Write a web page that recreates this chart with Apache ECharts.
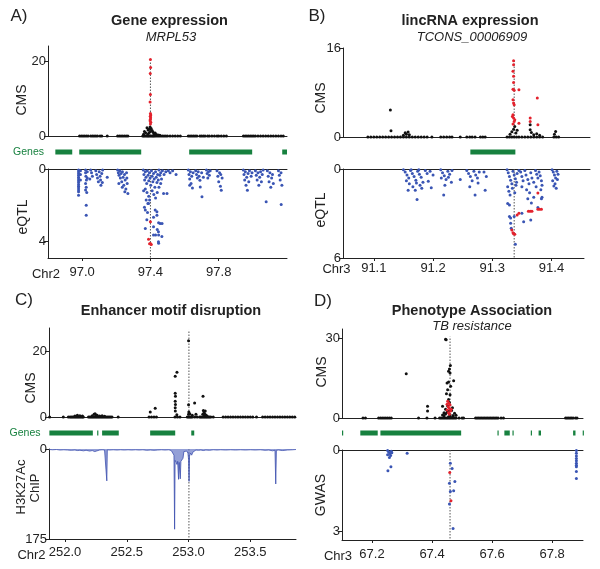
<!DOCTYPE html>
<html><head><meta charset="utf-8">
<script src="https://cdn.jsdelivr.net/npm/echarts@6/dist/echarts.min.js"></script>
<style>html,body{margin:0;padding:0;background:#fff}#c{width:600px;height:569px}</style>
</head><body><div id="c"></div>
<script>
// ---------------- DATA ----------------
// Panel A: Gene expression, MRPL53 (Chr2, Mb)
const aXTicks = [97.0, 97.4, 97.8];
const aCmsTicks = [0, 20];
const aEqtlTicks = [0, 4];
const aLead = 97.4, aLeadTop = 20.5;
const aGenes = [[96.843,96.942],[96.983,97.346],[97.627,97.996],[98.172,98.2]];
const aCmsBaseX = [96.985,96.995,97.005,97.015,97.025,97.035,97.05,97.06,97.07,97.08,97.09,97.105,97.115,97.147,97.208,97.218,97.228,97.238,97.248,97.258,97.268,97.355,97.362,97.37,97.378,97.385,97.392,97.4,97.408,97.415,97.422,97.43,97.44,97.45,97.46,97.47,97.48,97.49,97.5,97.515,97.53,97.545,97.56,97.575,97.622,97.632,97.642,97.652,97.662,97.672,97.69,97.7,97.71,97.72,97.735,97.745,97.76,97.775,97.79,97.8,97.815,97.83,97.845,97.945,97.955,97.965,97.975,97.985,97.995,98.005,98.015,98.03,98.045,98.06,98.075,98.09,98.105,98.12,98.135,98.15,98.165,98.178];
const aCmsBlack = [[97.36,0.5],[97.365,1.2],[97.372,0.9],[97.38,2.2],[97.386,1.6],[97.392,1.8],[97.398,2.4],[97.404,2.0],[97.41,1.5],[97.416,1.0],[97.42,0.6],[97.428,0.8],[97.435,0.4],[97.445,0.3],[97.455,0.2],[97.392,0.9],[97.40,1.2],[97.385,0.5]];
const aCmsRed = [[97.4,20.4],[97.401,18.3],[97.399,16.7],[97.4,11.1],[97.398,9.1],[97.4,6.0],[97.402,5.6],[97.399,5.3],[97.401,4.9],[97.4,4.5],[97.398,4.1],[97.402,3.7],[97.4,3.2]];
const aEqtlBlue = [
[96.979,0.05],[96.979,0.15],[96.979,0.25],[96.979,0.35],[96.979,0.45],[96.979,0.55],[96.979,0.65],[96.979,0.75],[96.979,0.85],[96.979,0.95],[96.979,1.05],[96.979,1.15],[96.979,1.25],[96.979,1.45],
[96.99,0.1],[96.99,0.3],[96.99,0.6],
[97.02,0.05],[97.02,0.2],[97.022,0.4],[97.025,0.6],[97.02,0.8],[97.024,1.0],[97.027,1.3],[97.03,0.15],[97.03,0.5],[97.024,2.0],[97.024,2.55],[97.02,1.15],
[97.05,0.05],[97.055,0.2],[97.06,0.4],[97.045,0.55],[97.08,0.1],[97.085,0.3],[97.09,0.5],[97.095,0.7],[97.1,0.15],[97.105,0.4],[97.108,0.6],[97.11,0.9],[97.115,0.25],[97.118,0.75],[97.12,0.05],[97.147,0.45],
[97.208,0.05],[97.212,0.2],[97.216,0.35],[97.22,0.1],[97.224,0.5],[97.228,0.25],[97.232,0.7],[97.236,0.15],[97.24,0.45],[97.244,0.9],[97.248,0.3],[97.252,0.6],[97.256,1.1],[97.26,0.2],[97.264,0.8],[97.268,1.35],[97.25,1.25],[97.235,1.0],[97.262,0.5],[97.215,0.8],
[97.358,0.05],[97.362,0.3],[97.366,0.6],[97.37,0.15],[97.374,0.45],[97.378,0.8],[97.382,0.1],[97.386,0.35],[97.39,0.65],[97.394,0.2],[97.398,0.5],[97.402,0.9],[97.406,0.1],[97.41,0.4],[97.414,0.7],[97.418,0.25],[97.422,0.55],[97.426,1.0],[97.43,0.15],[97.434,0.45],[97.438,0.75],[97.442,0.3],[97.446,0.6],[97.45,0.05],[97.455,0.35],[97.46,0.2],[97.465,0.55],[97.47,0.1],[97.48,0.3],[97.49,0.15],
[97.37,1.1],[97.38,1.3],[97.39,1.5],[97.36,1.2],[97.375,1.7],[97.385,1.9],[97.395,1.7],[97.41,1.2],[97.42,1.4],[97.43,1.6],[97.44,1.3],[97.45,1.0],[97.46,0.8],[97.477,1.35],[97.497,1.35],
[97.365,2.1],[97.37,2.26],[97.383,2.4],[97.389,1.9],[97.418,2.65],[97.428,2.26],[97.438,2.54],[97.438,2.36],[97.448,2.96],[97.457,3.0],[97.468,3.0],[97.379,2.8],[97.37,3.27],[97.418,3.18],[97.44,3.33],[97.447,3.45],[97.418,3.63],[97.43,3.63],[97.448,3.63],[97.467,3.72],[97.447,4.0],[97.448,4.09],
[97.505,0.1],[97.515,0.2],[97.53,0.1],[97.55,0.3],
[97.622,0.05],[97.626,0.3],[97.63,0.55],[97.634,0.15],[97.638,0.8],[97.642,0.4],[97.646,1.05],[97.65,0.2],[97.63,0.9],[97.665,0.1],[97.67,0.3],[97.675,0.5],[97.68,0.15],[97.685,0.4],[97.69,0.62],[97.692,0.99],[97.702,1.53],[97.7,0.2],[97.71,0.45],
[97.728,0.05],[97.732,0.25],[97.736,0.5],[97.74,0.15],[97.745,0.35],[97.75,0.1],
[97.79,0.1],[97.795,0.4],[97.8,0.7],[97.805,0.2],[97.81,0.95],[97.815,1.17],[97.82,0.5],[97.812,0.3],
[97.944,0.05],[97.948,0.3],[97.952,0.6],[97.956,0.15],[97.96,0.9],[97.964,0.45],[97.968,1.17],[97.972,0.25],[97.976,0.7],[97.98,0.1],[97.99,0.4],[97.995,0.2],
[98.015,0.1],[98.02,0.35],[98.025,0.6],[98.03,0.2],[98.035,0.9],[98.04,0.45],[98.045,0.15],[98.05,0.7],[98.055,0.3],[98.06,0.05],
[98.085,0.1],[98.09,0.4],[98.095,0.7],[98.1,0.2],[98.105,1.0],[98.11,0.5],[98.115,0.3],[98.12,0.8],[98.078,1.8],
[98.15,0.1],[98.155,0.35],[98.16,0.6],[98.165,0.2],[98.17,0.9],[98.166,1.95]];
const aEqtlRed = [[97.4,2.9],[97.389,3.87],[97.395,4.12],[97.405,4.15],[97.4,4.1]];

// Panel B: lincRNA expression, TCONS_00006909 (Chr3, Mb)
const bXTicks = [91.1, 91.2, 91.3, 91.4];
const bCmsTicks = [0, 16];
const bEqtlTicks = [0, 6];
const bLead = 91.337, bLeadTop = 13.7;
const bGenes = [[91.263,91.339]];
const bCmsBaseX = [91.09,91.095,91.1,91.105,91.11,91.115,91.12,91.125,91.13,91.135,91.14,91.145,91.15,91.155,91.16,91.165,91.17,91.175,91.18,91.185,91.19,91.198,91.213,91.218,91.223,91.228,91.232,91.246,91.257,91.262,91.266,91.271,91.28,91.284,91.288,91.325,91.329,91.333,91.337,91.341,91.345,91.35,91.355,91.36,91.365,91.37,91.375,91.38,91.385,91.404,91.408,91.412];
const bCmsBlack = [[91.128,4.87],[91.129,1.14],[91.15,0.3],[91.153,0.78],[91.155,0.5],[91.158,0.9],[91.16,0.4],[91.33,0.5],[91.333,0.96],[91.336,1.4],[91.338,1.9],[91.34,0.7],[91.342,1.2],[91.364,2.2],[91.364,1.3],[91.366,0.8],[91.37,0.4],[91.375,0.6],[91.38,0.3],[91.407,1.0],[91.405,0.5]];
const bCmsRed = [[91.336,13.7],[91.336,13.0],[91.335,11.8],[91.336,10.9],[91.336,9.8],[91.335,8.6],[91.337,8.4],[91.335,6.7],[91.336,6.1],[91.337,5.8],[91.335,4.0],[91.334,3.7],[91.336,3.4],[91.338,3.1],[91.337,2.8],[91.335,2.35],[91.345,8.5],[91.345,2.47],[91.364,3.4],[91.364,2.8],[91.376,7.0],[91.377,2.2]];
const bEqtlBlue = [
[91.15,0.05],[91.153,0.2],[91.156,0.4],[91.159,0.6],[91.162,0.1],[91.165,0.3],[91.168,0.5],[91.171,0.75],[91.174,0.15],[91.177,0.35],[91.18,0.55],[91.183,0.9],[91.155,0.8],[91.16,1.0],[91.166,1.2],[91.172,0.95],[91.178,1.1],[91.181,1.3],[91.158,1.43],[91.17,1.43],[91.173,2.05],[91.163,0.05],[91.176,0.05],
[91.187,0.1],[91.19,0.3],[91.195,0.15],[91.197,1.27],[91.2,0.4],[91.192,0.83],
[91.213,0.05],[91.216,0.25],[91.219,0.45],[91.222,0.7],[91.225,0.15],[91.228,0.35],[91.231,0.9],[91.214,0.6],[91.22,1.09],[91.218,1.76],[91.226,0.55],[91.232,0.1],
[91.246,0.71],
[91.257,0.1],[91.26,0.3],[91.263,0.5],[91.266,0.8],[91.269,0.15],[91.272,0.4],[91.275,0.6],[91.278,0.2],[91.262,1.2],[91.271,1.76],[91.276,0.95],[91.288,1.43],[91.286,0.2],[91.29,0.5],
[91.325,0.05],[91.327,0.25],[91.329,0.5],[91.331,0.75],[91.333,1.0],[91.335,0.15],[91.337,0.4],[91.339,0.65],[91.341,0.9],[91.326,1.2],[91.328,1.5],[91.33,1.76],[91.334,1.3],[91.338,1.6],[91.342,0.3],[91.326,2.32],[91.329,2.43],[91.329,3.21],[91.331,3.3],[91.331,3.66],[91.332,3.99],[91.337,3.21],[91.339,5.07],[91.34,1.1],[91.345,0.1],
[91.348,0.2],[91.35,0.5],[91.352,0.8],[91.355,0.1],[91.357,0.4],[91.36,0.7],[91.362,1.0],[91.365,0.25],[91.367,0.6],[91.37,0.9],[91.35,1.2],[91.358,1.4],[91.363,1.6],[91.366,2.3],[91.37,1.9],[91.35,2.99],[91.353,3.55],[91.365,3.44],[91.36,2.0],
[91.373,0.1],[91.375,0.35],[91.377,0.6],[91.379,0.2],[91.381,0.45],[91.383,0.8],[91.384,1.1],[91.382,1.4],[91.384,1.9],[91.383,2.0],[91.377,2.6],[91.374,1.2],
[91.401,0.05],[91.403,0.2],[91.405,0.4],[91.407,0.6],[91.409,0.15],[91.411,0.35],[91.402,0.8],[91.406,1.0],[91.41,0.7],[91.408,1.3],[91.404,1.15]];
const bEqtlRed = [[91.333,4.11],[91.336,4.37],[91.338,4.4],[91.335,4.3],[91.342,3.1],[91.345,2.99],[91.361,2.85],[91.364,2.85],[91.367,2.85],[91.377,1.62],[91.377,2.72],[91.38,2.72],[91.383,2.72]];

// Panel C: Enhancer motif disruption (Chr2, Mb)
const cXTicks = [252.0, 252.5, 253.0, 253.5];
const cCmsTicks = [0, 20];
const cChipTicks = [0, 175];
const cLead = 253.003, cLeadTop = 26.5;
const cGenes = [[251.873,252.225],[252.26,252.265],[252.3,252.435],[252.689,252.892],[253.022,253.046]];
const cCmsBaseX = [251.875,251.986,252.027,252.04,252.05,252.06,252.07,252.08,252.09,252.1,252.11,252.12,252.13,252.14,252.148,252.19,252.2,252.21,252.22,252.23,252.24,252.25,252.26,252.27,252.28,252.29,252.3,252.31,252.32,252.33,252.34,252.35,252.36,252.37,252.38,252.43,252.68,252.7,252.72,252.74,252.89,252.91,252.93,252.99,253.0,253.01,253.02,253.03,253.05,253.07,253.09,253.1,253.11,253.12,253.13,253.14,253.15,253.16,253.17,253.18,253.2,253.28,253.3,253.32,253.34,253.36,253.38,253.4,253.42,253.44,253.46,253.48,253.5,253.52,253.55,253.6,253.62,253.64,253.66,253.68,253.7,253.72,253.74,253.76,253.78,253.8,253.82,253.84,253.86];
const cCmsBlack = [[252.08,0.3],[252.1,0.5],[252.12,0.4],[252.14,0.3],[252.22,0.4],[252.235,0.8],[252.243,1.0],[252.25,0.6],[252.26,0.5],[252.28,0.3],[252.3,0.4],[252.32,0.2],[252.69,1.5],[252.73,2.7],[252.892,12.4],[252.906,13.6],[252.892,7.2],[252.894,6.3],[252.892,4.8],[252.894,3.8],[252.892,2.8],[252.893,1.8],[252.905,0.7],[253.0,23.2],[253.0,3.7],[253.002,1.5],[253.0,0.8],[253.01,1.0],[253.049,4.3],[253.03,0.5],[253.06,0.8],[253.117,6.3],[253.12,2.0],[253.125,1.5],[253.13,1.0],[253.115,0.8],[253.128,0.5],[253.14,0.6],[253.15,0.3],[253.135,1.8]];
const cChip = [[251.873,1],[251.9,1.5],[251.93,1],[251.96,2],[251.99,1.5],[252.02,2],[252.05,2.5],[252.08,2],[252.1,3],[252.12,2.5],[252.15,3.5],[252.17,2.5],[252.2,4],[252.21,7],[252.22,3],[252.24,5],[252.245,8],[252.25,3],[252.28,2],[252.3,1.5],[252.32,2],[252.334,1.5],[252.338,62],[252.342,1.5],[252.36,2],[252.39,1.5],[252.42,2],[252.45,1.5],[252.48,2],[252.51,1.5],[252.54,2],[252.57,1.5],[252.6,2],[252.63,1.5],[252.66,2.5],[252.69,2],[252.72,2.5],[252.75,2],[252.78,1.5],[252.81,2],[252.84,1.5],[252.86,3],[252.875,5],[252.882,12],[252.887,156],[252.891,22],[252.9,26],[252.906,30],[252.912,24],[252.919,59],[252.924,26],[252.933,58],[252.938,24],[252.946,22],[252.955,18],[252.962,5],[252.975,3],[252.985,4],[252.995,8],[253.0,20],[253.004,63],[253.008,14],[253.015,8],[253.025,12],[253.035,6],[253.045,3],[253.06,2],[253.08,2.5],[253.1,2],[253.12,3],[253.14,2],[253.17,2.5],[253.2,1.5],[253.23,2],[253.26,1.5],[253.3,2],[253.34,1.5],[253.38,2],[253.42,1.5],[253.46,2],[253.5,1.5],[253.54,2],[253.58,1.5],[253.62,2.5],[253.65,2],[253.68,3.5],[253.7,2.5],[253.706,68],[253.711,2.5],[253.73,2],[253.76,3],[253.8,2],[253.84,1.5],[253.87,1]];

// Panel D: Phenotype Association, TB resistance (Chr3, Mb)
const dXTicks = [67.2, 67.4, 67.6, 67.8];
const dCmsTicks = [0, 30];
const dGwasTicks = [0, 3];
const dLead = 67.46, dLeadTop = 30.5;
const dGenes = [[67.1,67.104],[67.161,67.219],[67.228,67.497],[67.618,67.621],[67.641,67.659],[67.668,67.67],[67.729,67.731],[67.755,67.763],[67.87,67.878],[67.902,67.904]];
const dCmsBaseX = [67.17,67.178,67.222,67.228,67.234,67.24,67.246,67.252,67.258,67.264,67.355,67.383,67.41,67.425,67.43,67.435,67.44,67.445,67.45,67.455,67.46,67.465,67.47,67.475,67.48,67.49,67.5,67.505,67.545,67.55,67.555,67.56,67.565,67.57,67.575,67.58,67.585,67.59,67.595,67.6,67.605,67.61,67.615,67.62,67.63,67.638,67.845,67.85,67.855,67.86,67.865,67.87,67.878,67.883];
const dCmsBlack = [[67.314,16.6],[67.385,4.4],[67.385,2.6],[67.435,4.4],[67.447,29.4],[67.445,29.6],[67.461,19.7],[67.458,18.4],[67.455,17.5],[67.46,16.9],[67.472,14.0],[67.455,13.5],[67.45,13.1],[67.452,10.6],[67.46,8.7],[67.455,6.9],[67.448,9.1],[67.462,11.9],[67.44,0.8],[67.445,1.5],[67.45,2.2],[67.455,0.5],[67.46,1.2],[67.465,2.8],[67.47,0.9],[67.475,1.8],[67.445,3.3],[67.468,3.8],[67.452,4.5],[67.458,5.8],[67.44,2.0],[67.47,0.4],[67.48,1.0],[67.435,1.1],[67.462,0.3],[67.457,2.5]];
const dCmsRed = [[67.452,6.3],[67.456,5.5],[67.46,4.9],[67.454,4.2],[67.458,3.6],[67.45,3.0],[67.462,2.6],[67.455,2.0],[67.458,1.4],[67.464,3.3],[67.45,5.2]];
const dGwasBlue = [[67.252,0.02],[67.256,0.08],[67.26,0.13],[67.264,0.05],[67.262,0.2],[67.258,0.28],[67.252,0.18],[67.266,0.1],[67.317,0.12],[67.263,0.62],[67.253,0.77],[67.461,0.49],[67.467,0.68],[67.476,1.17],[67.458,1.23],[67.472,1.51],[67.461,1.54],[67.458,2.0],[67.47,2.9],[67.881,0.02],[67.881,0.12],[67.881,0.22],[67.881,0.31],[67.881,0.4],[67.881,0.49],[67.881,0.56],[67.881,0.62],[67.881,0.8],[67.881,1.05]];
const dGwasRed = [[67.459,0.83],[67.463,1.88]];

// ---------------- BUILD ----------------
const FONT = '"Liberation Sans", Arial, Helvetica, sans-serif';
const AX = '#222', BLUE = '#3a55b4', RED = '#e3222d', BLACK = '#111', GREEN = '#17813f';
const grids = [], xAxis = [], yAxis = [], series = [];

function base(xs){ return xs.map(x => [x, 0]); }

function addGrid(left, right, top, bottom){
  grids.push({left, top, width: right-left, height: bottom-top, containLabel:false, outerBoundsMode:'none'});
  return grids.length - 1;
}
function hiddenAxis(o){ return Object.assign({show:true, axisLine:{show:false}, axisTick:{show:false}, axisLabel:{show:false}, splitLine:{show:false}}, o); }

function yAx(gi, max, ticks, inverse){
  yAxis.push({gridIndex:gi, type:'value', min:0, max, inverse:!!inverse,
    axisLine:{show:true, lineStyle:{color:AX, width:1}},
    axisTick:{show:true, length:4, lineStyle:{color:AX}, customValues:ticks},
    axisLabel:{show:true, margin:2, fontSize:13, color:'#222', fontFamily:FONT, customValues:ticks},
    splitLine:{show:false}});
  return yAxis.length-1;
}
function xAxPlain(gi, xr, pos, showLine){
  xAxis.push(hiddenAxis({gridIndex:gi, type:'value', min:xr[0], max:xr[1], position:pos,
    axisLine:{show:showLine, onZero:false, lineStyle:{color:AX, width:1}}}));
  return xAxis.length-1;
}
function xAxLabeled(gi, xr, ticks, margin){
  xAxis.push({gridIndex:gi, type:'value', min:xr[0], max:xr[1], position:'bottom',
    axisLine:{show:true, onZero:false, lineStyle:{color:AX, width:1}},
    axisTick:{show:true, length:3, lineStyle:{color:AX}, customValues:ticks},
    axisLabel:{show:true, margin, fontSize:13, color:'#222', fontFamily:FONT, customValues:ticks, formatter:v=>Number(v).toFixed(1)},
    splitLine:{show:false}});
  return xAxis.length-1;
}
function scatter(xi, yi, data, color, z){
  series.push({type:'scatter', xAxisIndex:xi, yAxisIndex:yi, data, symbolSize:3, clip:false, silent:true, z:z||2,
    itemStyle:{color, opacity:1}});
}
function dotted(xi, yi, x, top){
  series.push({type:'line', xAxisIndex:xi, yAxisIndex:yi, data:[[x,0],[x,top]], symbol:'none', silent:true, z:1,
    lineStyle:{type:[1.5,1.5], color:'#555', width:1}});
}
function genes(xi, yi, data){
  series.push({type:'custom', xAxisIndex:xi, yAxisIndex:yi, data, silent:true, encode:{x:[0,1]},
    renderItem:(p, api)=>{
      const s = api.coord([api.value(0), 0]), e = api.coord([api.value(1), 0]);
      return {type:'rect', shape:{x:s[0], y:s[1]-2.5, width:Math.max(1.2, e[0]-s[0]), height:5}, style:{fill:GREEN}};
    }});
}

function panel(cfg){
  const L = cfg.lay;
  // CMS
  const g1 = addGrid(L.left, L.right, L.cmsTop, L.cmsBot);
  const x1 = xAxPlain(g1, cfg.xr, 'bottom', true);
  const y1 = yAx(g1, cfg.cmsMax, cfg.cmsTicks, false);
  dotted(x1, y1, cfg.lead, cfg.leadTop);
  scatter(x1, y1, base(cfg.cmsBaseX), BLACK, 2);
  scatter(x1, y1, cfg.cmsBlack, BLACK, 3);
  scatter(x1, y1, cfg.cmsRed, RED, 4);
  // Genes
  const g2 = addGrid(L.left, L.right, L.geneY-4, L.geneY+4);
  const x2 = xAxPlain(g2, cfg.xr, 'bottom', false);
  yAxis.push(hiddenAxis({gridIndex:g2, type:'value', min:-1, max:1}));
  genes(x2, yAxis.length-1, cfg.genes);
  // Lower
  const g3 = addGrid(L.left, L.lowRight || L.right, L.lowTop, L.lowBot);
  const x3 = xAxLabeled(g3, [cfg.xr[0], cfg.xr[0] + (cfg.xr[1]-cfg.xr[0])*((L.lowRight||L.right)-L.left)/(L.right-L.left)], cfg.xTicks, cfg.xMargin);
  const y3 = yAx(g3, cfg.lowMax, cfg.lowTicks, true);
  if (cfg.topLine) {
    const g4 = addGrid(L.left, L.right, L.lowTop, L.lowBot);
    xAxPlain(g4, cfg.xr, 'top', true);
    yAxis.push(hiddenAxis({gridIndex:g4, type:'value', min:0, max:1}));
  }
  dotted(x3, y3, cfg.lead, cfg.lowMax);
  if (cfg.chip) {
    series.push({type:'line', xAxisIndex:x3, yAxisIndex:y3, data:cfg.chip, symbol:'none', silent:true, z:2,
      lineStyle:{color:'#3c4fae', width:0.8}, areaStyle:{color:'#6678c6', opacity:0.7, origin:'start'}});
  } else {
    scatter(x3, y3, cfg.lowBlue, BLUE, 2);
    scatter(x3, y3, cfg.lowRed, RED, 4);
  }
}

panel({lay:{left:48, right:287, cmsTop:46, cmsBot:136, geneY:152, lowTop:169, lowBot:258}, xr:[96.8,98.2],
  cmsMax:24, lowMax:4.9, cmsTicks:aCmsTicks, lowTicks:aEqtlTicks, xTicks:aXTicks, xMargin:8,
  lead:aLead, leadTop:aLeadTop, cmsBaseX:aCmsBaseX, cmsBlack:aCmsBlack, cmsRed:aCmsRed, genes:aGenes,
  lowBlue:aEqtlBlue, lowRed:aEqtlRed, topLine:true});
panel({lay:{left:343, right:590, lowRight:584, cmsTop:48, cmsBot:137, geneY:152, lowTop:169, lowBot:258}, xr:[91.048,91.465],
  cmsMax:16, lowMax:6, cmsTicks:bCmsTicks, lowTicks:bEqtlTicks, xTicks:bXTicks, xMargin:4,
  lead:bLead, leadTop:bLeadTop, cmsBaseX:bCmsBaseX, cmsBlack:bCmsBlack, cmsRed:bCmsRed, genes:bGenes,
  lowBlue:bEqtlBlue, lowRed:bEqtlRed, topLine:true});
panel({lay:{left:49, right:296, cmsTop:328, cmsBot:417, geneY:433, lowTop:449, lowBot:539}, xr:[251.87,253.87],
  cmsMax:27.1, lowMax:175, cmsTicks:cCmsTicks, lowTicks:cChipTicks, xTicks:cXTicks, xMargin:7,
  lead:cLead, leadTop:cLeadTop, cmsBaseX:cCmsBaseX, cmsBlack:cCmsBlack, cmsRed:[], genes:cGenes,
  chip:cChip, topLine:false});
panel({lay:{left:342, right:583, cmsTop:329, cmsBot:418, geneY:433, lowTop:450, lowBot:540}, xr:[67.1,67.903],
  cmsMax:33.4, lowMax:3.33, cmsTicks:dCmsTicks, lowTicks:dGwasTicks, xTicks:dXTicks, xMargin:8,
  lead:dLead, leadTop:dLeadTop, cmsBaseX:dCmsBaseX, cmsBlack:dCmsBlack, cmsRed:dCmsRed, genes:dGenes,
  lowBlue:dGwasBlue, lowRed:dGwasRed, topLine:true});

// ---------------- TEXT ----------------
function txt(text, x, y, o){
  o = o || {};
  return {type:'text', x, y, rotation:o.rot||0, silent:true, z:100,
    style:{text, x:0, y:0, fill:o.color||'#222', textAlign:o.align||'center', textVerticalAlign:'middle',
      font:(o.style||'normal')+' '+(o.weight||'normal')+' '+(o.size||13)+'px '+FONT}};
}
const R = Math.PI/2;
const graphic = [
  txt('A)', 19, 16, {size:17}), txt('B)', 317, 16, {size:17}), txt('C)', 24, 300, {size:17}), txt('D)', 323, 301, {size:17}),
  txt('Gene expression', 169.5, 21, {size:14.5, weight:'bold'}),
  txt('MRPL53', 171, 37, {size:13, style:'italic'}),
  txt('lincRNA expression', 470, 21, {size:14.5, weight:'bold'}),
  txt('TCONS_00006909', 472, 37.5, {size:13, style:'italic'}),
  txt('Enhancer motif disruption', 171, 310.5, {size:14.5, weight:'bold'}),
  txt('Phenotype Association', 472, 310.5, {size:14.5, weight:'bold'}),
  txt('TB resistance', 472, 326, {size:13, style:'italic'}),
  txt('CMS', 22.5, 100, {size:14, rot:R}), txt('eQTL', 23, 217, {size:14, rot:R}),
  txt('CMS', 321, 98, {size:14, rot:R}), txt('eQTL', 321, 210, {size:14, rot:R}),
  txt('CMS', 31, 388, {size:14, rot:R}), txt('H3K27Ac', 21, 487, {size:13, rot:R}), txt('ChIP', 35.5, 488, {size:13, rot:R}),
  txt('CMS', 322.5, 372, {size:14, rot:R}), txt('GWAS', 321, 495, {size:14, rot:R}),
  txt('Genes', 28.5, 152, {size:10.5, color:GREEN}), txt('Genes', 25, 433, {size:10.5, color:GREEN}),
  txt('Chr2', 46, 274, {size:13}), txt('Chr3', 336.5, 269, {size:13}), txt('Chr2', 31.5, 555, {size:13}), txt('Chr3', 338, 556, {size:13})
];

const chart = echarts.init(document.getElementById('c'), null, {renderer:'canvas'});
chart.setOption({animation:false, backgroundColor:'#fff', grid:grids, xAxis, yAxis, series, graphic});
</script>
</body></html>
